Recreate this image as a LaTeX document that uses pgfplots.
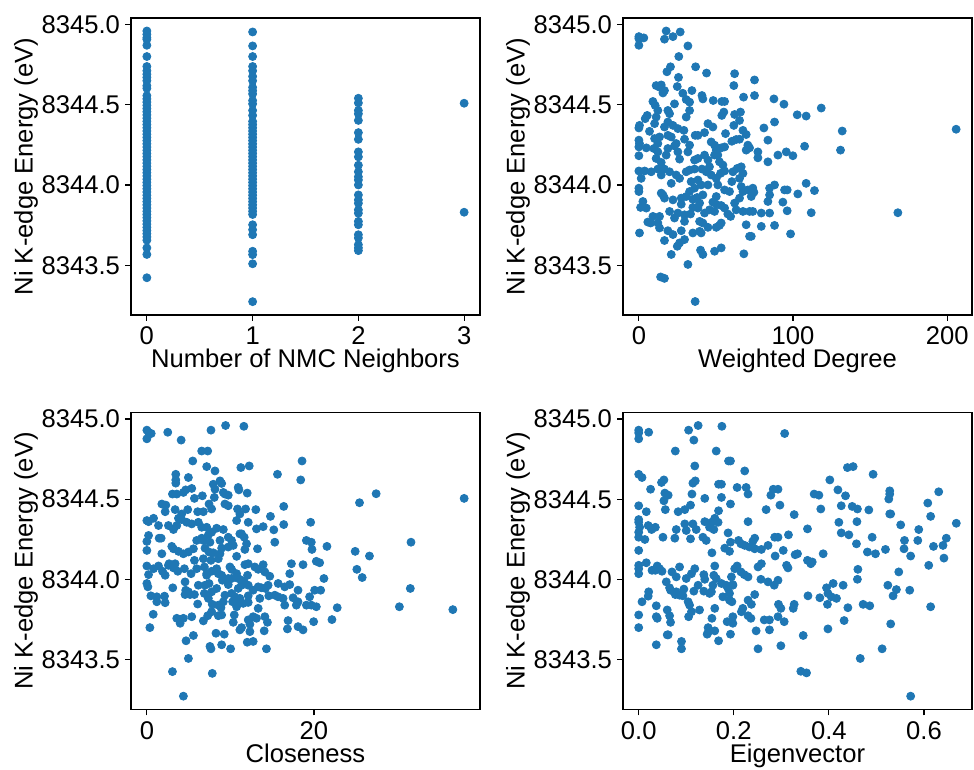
\documentclass[border=0pt]{standalone}
\usepackage{pgfplots}
\usepackage{pgfplotstable}
\pgfplotsset{compat=1.18}
\usepackage{fontspec}
\setmainfont{Liberation Sans}
\definecolor{tabblue}{HTML}{1F77B4}

\pgfplotstableread{
x y
0 8344.959
0 8344.938
0 8344.917
0 8344.907
0 8344.870
0 8344.800
0 8344.738
0 8344.711
0 8344.690
0 8344.670
0 8344.649
0 8344.618
0 8344.602
0 8344.556
0 8344.536
0 8344.516
0 8344.496
0 8344.476
0 8344.456
0 8344.436
0 8344.416
0 8344.396
0 8344.376
0 8344.356
0 8344.336
0 8344.316
0 8344.296
0 8344.276
0 8344.256
0 8344.236
0 8344.216
0 8344.196
0 8344.176
0 8344.156
0 8344.136
0 8344.116
0 8344.096
0 8344.076
0 8344.056
0 8344.036
0 8344.016
0 8343.996
0 8343.976
0 8343.956
0 8343.936
0 8343.916
0 8343.896
0 8343.876
0 8343.856
0 8343.836
0 8343.816
0 8343.796
0 8343.776
0 8343.756
0 8343.736
0 8343.716
0 8343.696
0 8343.676
0 8343.656
0 8343.608
0 8343.567
0 8343.422
1 8344.953
1 8344.866
1 8344.800
1 8344.738
1 8344.711
1 8344.676
1 8344.649
1 8344.608
1 8344.587
1 8344.567
1 8344.526
1 8344.505
1 8344.464
1 8344.433
1 8344.396
1 8344.376
1 8344.356
1 8344.336
1 8344.316
1 8344.296
1 8344.276
1 8344.256
1 8344.236
1 8344.216
1 8344.196
1 8344.176
1 8344.156
1 8344.136
1 8344.116
1 8344.096
1 8344.076
1 8344.056
1 8344.036
1 8344.016
1 8343.996
1 8343.976
1 8343.956
1 8343.936
1 8343.916
1 8343.896
1 8343.876
1 8343.856
1 8343.836
1 8343.816
1 8343.752
1 8343.721
1 8343.690
1 8343.587
1 8343.566
1 8343.509
1 8343.273
2 8344.540
2 8344.511
2 8344.464
2 8344.443
2 8344.402
2 8344.326
2 8344.284
2 8344.206
2 8344.175
2 8344.123
2 8344.082
2 8344.051
2 8344.031
2 8344.000
2 8343.938
2 8343.907
2 8343.886
2 8343.845
2 8343.824
2 8343.773
2 8343.752
2 8343.690
2 8343.670
2 8343.628
2 8343.608
2 8343.591
3 8344.509
3 8343.830
}\tblA

\pgfplotstableread{
x y
0 8344.924
0 8344.912
3.2 8344.916
0 8344.870
17.7 8344.959
16.6 8344.908
22.1 8344.924
26.8 8344.953
31.8 8344.866
25.9 8344.800
36.8 8344.736
20.5 8344.736
18.2 8344.705
43.9 8344.697
62.1 8344.693
75.0 8344.654
61.6 8344.619
25.7 8344.670
24.9 8344.613
11.2 8344.619
13.4 8344.609
14.5 8344.623
16.6 8344.588
15.6 8344.573
28.5 8344.571
34.4 8344.588
40.9 8344.557
41.5 8344.536
48.2 8344.526
53.8 8344.520
55.6 8344.520
67.9 8344.547
75.0 8344.557
87.6 8344.536
94.1 8344.503
23.1 8344.505
30.7 8344.532
32.9 8344.516
9.1 8344.520
10.6 8344.495
12.3 8344.464
18.8 8344.464
19.9 8344.444
32.9 8344.464
30.7 8344.423
5.4 8344.433
4.1 8344.413
0.4 8344.371
0 8344.355
11.2 8344.423
10.2 8344.382
6.9 8344.334
16.6 8344.361
18.8 8344.392
22.1 8344.371
25.3 8344.351
29.2 8344.340
36.5 8344.309
38.3 8344.309
42.6 8344.326
44.8 8344.382
48.0 8344.361
53.8 8344.433
55.1 8344.454
62.1 8344.439
65.9 8344.454
65.3 8344.402
61.6 8344.371
67.5 8344.340
69.6 8344.314
81.1 8344.355
88.0 8344.392
102.7 8344.437
108.5 8344.429
118.3 8344.479
131.9 8344.336
205.8 8344.347
56.2 8344.320
60.3 8344.272
63.1 8344.283
65.3 8344.285
70.7 8344.248
71.8 8344.231
69.6 8344.217
77.2 8344.206
77.2 8344.169
83.7 8344.279
83.7 8344.144
90.2 8344.186
95.6 8344.206
99.9 8344.182
107.5 8344.241
130.8 8344.217
10.2 8344.289
12.3 8344.258
13.4 8344.299
18.8 8344.309
21.0 8344.299
24.2 8344.258
23.1 8344.243
29.6 8344.285
32.9 8344.248
31.8 8344.206
25.3 8344.206
26.4 8344.161
18.8 8344.227
17.7 8344.186
12.3 8344.206
11.2 8344.165
14.5 8344.140
9.7 8344.227
0 8344.279
0.4 8344.258
0 8344.237
0 8344.182
4.8 8344.231
42.6 8344.186
46.9 8344.268
49.1 8344.248
50.2 8344.217
51.2 8344.186
52.3 8344.144
45.8 8344.113
38.3 8344.165
36.1 8344.155
44.8 8344.155
51.2 8344.227
53.4 8344.231
54.5 8344.124
55.6 8344.237
49.1 8344.186
0 8344.087
3.7 8344.087
1.5 8344.041
8.0 8344.082
12.3 8344.099
16.6 8344.099
14.5 8344.062
19.9 8344.082
24.2 8344.062
26.4 8344.041
30.7 8344.082
32.9 8344.093
36.1 8344.099
40.9 8344.099
43.7 8344.082
38.3 8344.031
33.9 8344.021
36.1 8343.980
40.4 8344.000
46.9 8344.062
50.2 8344.041
53.0 8344.072
55.6 8344.087
61.0 8344.082
63.8 8344.103
66.4 8344.113
67.5 8344.072
65.3 8344.041
66.4 8343.990
60.3 8344.021
55.6 8343.969
51.2 8344.000
44.8 8344.000
41.5 8343.938
37.8 8343.922
35.0 8343.911
30.7 8343.928
27.5 8343.918
22.1 8343.907
16.6 8343.918
15.6 8343.938
14.5 8343.949
21.0 8344.010
0 8343.980
0 8343.959
2.6 8343.897
1.1 8343.860
4.8 8343.856
9.1 8343.804
5.8 8343.769
7.6 8343.763
13.4 8343.804
12.3 8343.763
13.4 8343.732
18.8 8343.715
22.1 8343.691
16.6 8343.654
23.1 8343.794
25.3 8343.825
29.6 8343.814
33.5 8343.819
29.6 8343.773
27.5 8343.715
35.0 8343.701
39.4 8343.773
41.5 8343.763
42.6 8343.825
45.8 8343.845
49.1 8343.835
48.0 8343.893
50.2 8343.928
53.4 8343.872
55.6 8343.856
57.7 8343.819
59.5 8343.804
53.4 8343.763
52.3 8343.748
50.2 8343.736
44.8 8343.736
39.4 8343.711
40.4 8343.701
63.1 8343.845
62.1 8343.887
65.3 8343.918
67.5 8343.959
70.7 8343.969
73.9 8343.980
74.6 8343.955
72.9 8343.928
67.5 8343.835
71.8 8343.835
73.9 8343.835
69.6 8343.752
71.8 8343.680
72.9 8343.680
79.4 8343.825
84.8 8343.825
83.7 8343.897
84.8 8343.938
88.0 8344.000
94.5 8343.969
96.2 8343.969
93.4 8343.893
96.2 8343.839
88.0 8343.748
98.4 8343.695
103.1 8343.944
108.5 8344.010
113.9 8343.965
111.8 8343.827
168.0 8343.827
0.4 8343.701
21.0 8343.567
24.9 8343.618
26.4 8343.639
29.6 8343.660
31.8 8343.505
40.0 8343.594
41.5 8343.567
49.1 8343.587
53.4 8343.608
68.1 8343.571
14.1 8343.427
16.6 8343.418
36.5 8343.274
84.8 8343.980
79.4 8343.742
50.2 8343.880
58.8 8343.959
32.9 8343.959
39.4 8343.887
27.5 8343.880
19.9 8343.835
35.0 8343.860
38.3 8343.856
}\tblB

\pgfplotstableread{
x y
0 8344.930
0.20 8344.917
0.52 8344.909
0 8344.876
2.50 8344.917
4.10 8344.868
7.67 8344.930
9.42 8344.959
11.61 8344.954
6.56 8344.800
7.28 8344.800
5.49 8344.738
7.16 8344.703
8.15 8344.676
11.25 8344.697
12.25 8344.707
18.57 8344.738
18.41 8344.620
15.63 8344.655
3.46 8344.655
3.46 8344.620
3.46 8344.600
4.97 8344.635
4.65 8344.558
5.37 8344.567
3.06 8344.532
3.58 8344.532
4.37 8344.542
5.69 8344.505
6.64 8344.521
7.95 8344.593
8.15 8344.562
8.75 8344.614
8.95 8344.598
9.15 8344.542
9.34 8344.532
9.74 8344.525
8.07 8344.511
7.44 8344.470
7.75 8344.439
1.79 8344.470
2.27 8344.463
2.19 8344.422
3.38 8344.435
4.17 8344.408
4.89 8344.435
6.08 8344.422
6.76 8344.422
10.93 8344.573
11.01 8344.558
12.01 8344.538
27.44 8344.534
25.45 8344.478
37.97 8344.505
16.38 8344.455
13.04 8344.435
10.85 8344.439
11.81 8344.439
11.13 8344.408
9.74 8344.459
9.34 8344.470
0 8344.367
0.20 8344.360
0.80 8344.381
1.39 8344.336
2.58 8344.336
3.18 8344.311
3.58 8344.336
3.78 8344.381
4.17 8344.373
4.77 8344.356
5.37 8344.346
6.16 8344.356
6.56 8344.325
7.16 8344.325
7.75 8344.294
8.35 8344.319
9.15 8344.311
7.36 8344.278
6.56 8344.257
5.96 8344.243
6.76 8344.243
7.55 8344.232
8.75 8344.243
9.74 8344.263
10.14 8344.243
10.74 8344.367
11.33 8344.284
12.13 8344.356
13.12 8344.315
13.92 8344.329
14.79 8344.393
15.19 8344.309
16.38 8344.342
19.60 8344.356
15.31 8344.232
19.09 8344.243
19.68 8344.232
19.76 8344.187
21.55 8344.206
24.93 8344.175
26.64 8344.146
31.61 8344.232
0 8344.237
0.20 8344.274
1.47 8344.257
1.71 8344.257
1.79 8344.160
0 8344.181
2.98 8344.206
3.18 8344.191
3.78 8344.175
4.37 8344.160
4.97 8344.171
5.57 8344.191
6.96 8344.195
7.44 8344.171
7.95 8344.166
8.75 8344.160
8.95 8344.195
9.74 8344.202
10.34 8344.212
10.74 8344.144
11.73 8344.187
13.24 8344.191
11.13 8344.284
11.65 8344.263
11.93 8344.222
8.55 8344.129
0 8344.084
0.20 8344.030
0.80 8344.067
1.39 8344.084
1.87 8344.051
2.58 8344.088
3.18 8344.072
3.38 8344.098
3.70 8344.051
4.49 8344.067
5.29 8344.036
5.69 8344.119
6.88 8344.078
6.76 8344.129
7.67 8344.119
7.16 8344.036
7.75 8344.051
8.35 8344.067
8.55 8344.036
8.95 8344.026
9.74 8344.006
10.14 8344.006
10.93 8344.006
11.33 8343.995
9.94 8344.078
10.14 8344.063
10.74 8344.036
11.73 8344.092
12.13 8344.098
12.05 8344.026
12.92 8344.078
13.32 8344.063
13.92 8344.092
14.12 8344.047
14.71 8344.020
17.30 8344.098
18.69 8344.092
17.10 8344.036
20.28 8344.113
20.68 8344.104
21.19 8344.006
25.13 8344.063
25.77 8344.012
0 8343.975
0.12 8343.954
0.48 8343.898
1.19 8343.861
2.11 8343.896
2.19 8343.855
3.10 8343.948
4.57 8343.985
4.65 8343.933
4.57 8343.906
5.17 8343.906
5.69 8343.906
4.97 8343.923
6.88 8343.913
6.96 8343.964
7.44 8343.975
7.75 8343.923
8.35 8343.944
9.03 8343.995
9.74 8343.968
10.14 8343.913
10.54 8343.892
10.74 8343.857
11.13 8343.882
10.93 8343.944
11.33 8343.964
11.65 8343.985
12.13 8343.964
12.13 8343.898
12.72 8343.933
13.32 8343.954
13.72 8343.948
14.19 8343.944
13.52 8343.882
14.51 8343.964
15.71 8343.975
15.31 8343.902
15.71 8343.892
16.50 8343.954
17.10 8343.968
16.30 8343.882
17.50 8343.886
18.09 8343.933
18.09 8343.861
17.89 8343.840
19.09 8343.840
19.68 8343.840
20.08 8343.933
20.80 8343.933
20.28 8343.830
19.48 8343.892
6.08 8343.847
7.83 8343.845
8.55 8343.840
8.87 8343.824
9.15 8343.861
10.26 8343.861
10.74 8343.830
11.53 8343.851
12.13 8343.857
13.32 8343.820
14.59 8343.898
16.50 8343.840
22.78 8343.824
30.22 8343.830
36.62 8343.812
31.53 8343.944
0.76 8343.783
0.36 8343.700
3.58 8343.758
4.37 8343.758
3.98 8343.727
5.37 8343.768
6.76 8343.742
7.28 8343.774
7.75 8343.799
8.55 8343.774
8.95 8343.779
10.34 8343.733
10.46 8343.779
11.13 8343.686
11.33 8343.700
12.13 8343.748
12.33 8343.721
12.72 8343.768
13.12 8343.758
12.33 8343.675
14.12 8343.768
14.43 8343.733
14.04 8343.680
16.90 8343.744
16.82 8343.692
18.09 8343.706
18.69 8343.686
19.96 8343.737
22.15 8343.750
4.69 8343.618
5.57 8343.651
8.27 8343.665
9.26 8343.659
7.55 8343.583
7.67 8343.568
8.95 8343.593
10.02 8343.568
12.01 8343.609
12.72 8343.614
14.31 8343.568
4.97 8343.508
3.06 8343.426
7.83 8343.415
4.37 8343.273
1.19 8343.892
2.19 8344.026
2.66 8344.098
6.16 8343.964
7.36 8343.882
9.34 8343.902
7.16 8344.026
5.96 8344.067
}\tblC

\pgfplotstableread{
x y
0.000 8344.930
0.000 8344.913
0.000 8344.876
0.021 8344.917
0.105 8344.930
0.125 8344.959
0.175 8344.954
0.116 8344.868
0.307 8344.909
0.077 8344.800
0.163 8344.800
0.189 8344.738
0.193 8344.738
0.118 8344.707
0.223 8344.676
0.000 8344.655
0.007 8344.635
0.025 8344.562
0.048 8344.604
0.053 8344.620
0.114 8344.600
0.119 8344.614
0.168 8344.593
0.207 8344.573
0.226 8344.573
0.230 8344.532
0.283 8344.562
0.293 8344.562
0.278 8344.525
0.297 8344.463
0.268 8344.435
0.327 8344.404
0.369 8344.532
0.379 8344.525
0.402 8344.620
0.419 8344.558
0.439 8344.697
0.451 8344.703
0.493 8344.655
0.435 8344.521
0.426 8344.459
0.449 8344.455
0.460 8344.439
0.484 8344.433
0.528 8344.552
0.528 8344.532
0.526 8344.501
0.528 8344.408
0.383 8344.439
0.000 8344.459
0.016 8344.422
0.055 8344.538
0.062 8344.525
0.053 8344.490
0.056 8344.435
0.083 8344.422
0.097 8344.435
0.109 8344.463
0.112 8344.532
0.139 8344.505
0.174 8344.593
0.174 8344.511
0.193 8344.470
0.168 8344.428
0.160 8344.381
0.153 8344.356
0.139 8344.360
0.149 8344.325
0.158 8344.311
0.167 8344.356
0.000 8344.373
0.000 8344.356
0.002 8344.325
0.000 8344.294
0.000 8344.263
0.013 8344.249
0.020 8344.336
0.027 8344.311
0.035 8344.325
0.051 8344.263
0.076 8344.257
0.079 8344.311
0.097 8344.346
0.100 8344.305
0.109 8344.253
0.114 8344.346
0.121 8344.311
0.135 8344.263
0.142 8344.243
0.154 8344.166
0.188 8344.290
0.193 8344.232
0.181 8344.195
0.191 8344.175
0.210 8344.243
0.215 8344.222
0.230 8344.360
0.223 8344.212
0.233 8344.202
0.244 8344.257
0.244 8344.191
0.258 8344.187
0.240 8344.237
0.272 8344.212
0.286 8344.263
0.293 8344.263
0.287 8344.146
0.304 8344.181
0.315 8344.278
0.329 8344.154
0.334 8344.160
0.355 8344.315
0.388 8344.160
0.355 8344.119
0.365 8344.109
0.362 8344.098
0.421 8344.356
0.426 8344.290
0.442 8344.278
0.458 8344.222
0.459 8344.360
0.481 8344.171
0.491 8344.263
0.498 8344.160
0.519 8344.187
0.530 8344.408
0.551 8344.340
0.559 8344.243
0.558 8344.191
0.572 8344.146
0.587 8344.243
0.589 8344.311
0.608 8344.476
0.614 8344.393
0.631 8344.546
0.668 8344.350
0.647 8344.257
0.640 8344.212
0.620 8344.206
0.610 8344.088
0.642 8344.133
0.000 8344.181
0.000 8344.088
0.000 8344.067
0.000 8344.036
0.016 8344.104
0.028 8344.057
0.035 8344.057
0.039 8344.084
0.044 8344.067
0.049 8344.051
0.070 8344.047
0.079 8344.016
0.086 8344.078
0.100 8344.006
0.111 8344.036
0.118 8344.067
0.137 8344.030
0.160 8344.084
0.158 8344.026
0.156 8343.964
0.153 8343.923
0.163 8344.006
0.174 8343.975
0.184 8343.964
0.188 8343.944
0.191 8343.913
0.198 8343.968
0.202 8344.067
0.207 8344.084
0.215 8344.047
0.222 8344.030
0.230 8344.016
0.195 8344.016
0.257 8344.001
0.251 8344.078
0.258 8344.098
0.272 8343.985
0.285 8343.964
0.293 8343.995
0.314 8344.072
0.311 8344.088
0.021 8343.923
0.020 8343.896
0.007 8343.861
0.000 8343.779
0.000 8343.700
0.037 8343.836
0.037 8343.768
0.039 8343.758
0.060 8343.810
0.065 8343.774
0.067 8343.733
0.062 8343.655
0.067 8343.933
0.077 8343.906
0.086 8343.902
0.093 8343.898
0.104 8343.861
0.107 8343.840
0.111 8343.799
0.105 8343.768
0.116 8343.927
0.128 8343.810
0.137 8343.927
0.149 8343.913
0.160 8343.820
0.154 8343.758
0.146 8343.700
0.146 8343.671
0.160 8343.680
0.168 8343.618
0.177 8343.892
0.191 8343.871
0.196 8343.861
0.198 8343.768
0.198 8343.727
0.186 8343.737
0.193 8343.659
0.216 8343.799
0.219 8343.820
0.230 8343.871
0.237 8343.845
0.244 8343.906
0.236 8343.758
0.230 8343.774
0.247 8343.680
0.264 8343.748
0.275 8343.748
0.275 8343.686
0.294 8343.845
0.299 8343.820
0.293 8343.768
0.306 8343.737
0.299 8343.587
0.327 8343.845
0.325 8343.820
0.356 8343.898
0.381 8343.886
0.395 8343.948
0.398 8343.913
0.397 8343.845
0.405 8343.892
0.409 8343.975
0.416 8343.882
0.430 8343.964
0.440 8343.824
0.472 8343.845
0.486 8343.836
0.460 8344.001
0.461 8344.063
0.524 8343.964
0.542 8343.937
0.535 8343.898
0.547 8344.047
0.570 8343.933
0.614 8343.830
0.530 8343.723
0.432 8343.744
0.398 8343.692
0.346 8343.651
0.251 8343.568
0.512 8343.568
0.466 8343.508
0.341 8343.428
0.353 8343.418
0.572 8343.273
0.037 8343.593
0.060 8343.655
0.090 8343.614
0.090 8343.568
0.144 8343.659
0.198 8343.964
0.125 8343.964
0.139 8344.001
0.058 8343.985
0.065 8343.948
0.079 8343.923
0.095 8343.940
}\tblD

\pgfplotsset{
  /pgf/number format/assume math mode=true,
  panel/.style={
    scale only axis, width=174.5pt, height=148.5pt,
    anchor=south west,
    ymin=8343.19, ymax=8345.04,
    ytick={8343.5,8344,8344.5,8345},
    scaled ticks=false,
    tick align=outside, xtick pos=left, ytick pos=left,
    major tick length=3pt,
    tick style={black, line width=0.6pt},
    axis line style={black, line width=0.6pt},
    tick label style={font=\fontsize{12.8}{15}\selectfont, black},
    label style={font=\fontsize{12.8}{15}\selectfont, black},
    y tick label style={xshift=1pt, /pgf/number format/fixed, /pgf/number format/fixed zerofill, /pgf/number format/precision=1, /pgf/number format/1000 sep={}},
    x tick label style={yshift=0.5pt},
    ylabel={Ni K-edge Energy (eV)},
    ylabel style={at={(axis description cs:-0.282,0.5)}, anchor=base},
    xlabel style={at={(axis description cs:0.5,-0.178)}, anchor=base},
  },
  pts/.style={only marks, mark=*, mark size=2pt, color=tabblue,
    mark options={draw=none, fill=tabblue}},
}

\begin{document}
\begin{tikzpicture}
\useasboundingbox (0,0) rectangle (487pt,385pt);
\begin{axis}[panel, at={(65.5pt,227.5pt)},
  xmin=-0.15, xmax=3.15, xtick={0,1,2,3},
  xlabel={Number of NMC Neighbors}]
\addplot[pts] table[x=x,y=y] {\tblA};
\end{axis}
\begin{axis}[panel, at={(311.5pt,227.5pt)},
  xmin=-10.3, xmax=216.1, xtick={0,100,200},
  xlabel={Weighted Degree}]
\addplot[pts] table[x=x,y=y] {\tblB};
\end{axis}
\begin{axis}[panel, at={(65.5pt,30.25pt)},
  xmin=-1.9, xmax=39.87, xtick={0,20},
  xlabel={Closeness}]
\addplot[pts] table[x=x,y=y] {\tblC};
\end{axis}
\begin{axis}[panel, at={(311.5pt,30.25pt)},
  xmin=-0.033, xmax=0.701, xtick={0,0.2,0.4,0.6},
  x tick label style={/pgf/number format/fixed, /pgf/number format/fixed zerofill, /pgf/number format/precision=1},
  xlabel={Eigenvector}]
\addplot[pts] table[x=x,y=y] {\tblD};
\end{axis}
\end{tikzpicture}
\end{document}
